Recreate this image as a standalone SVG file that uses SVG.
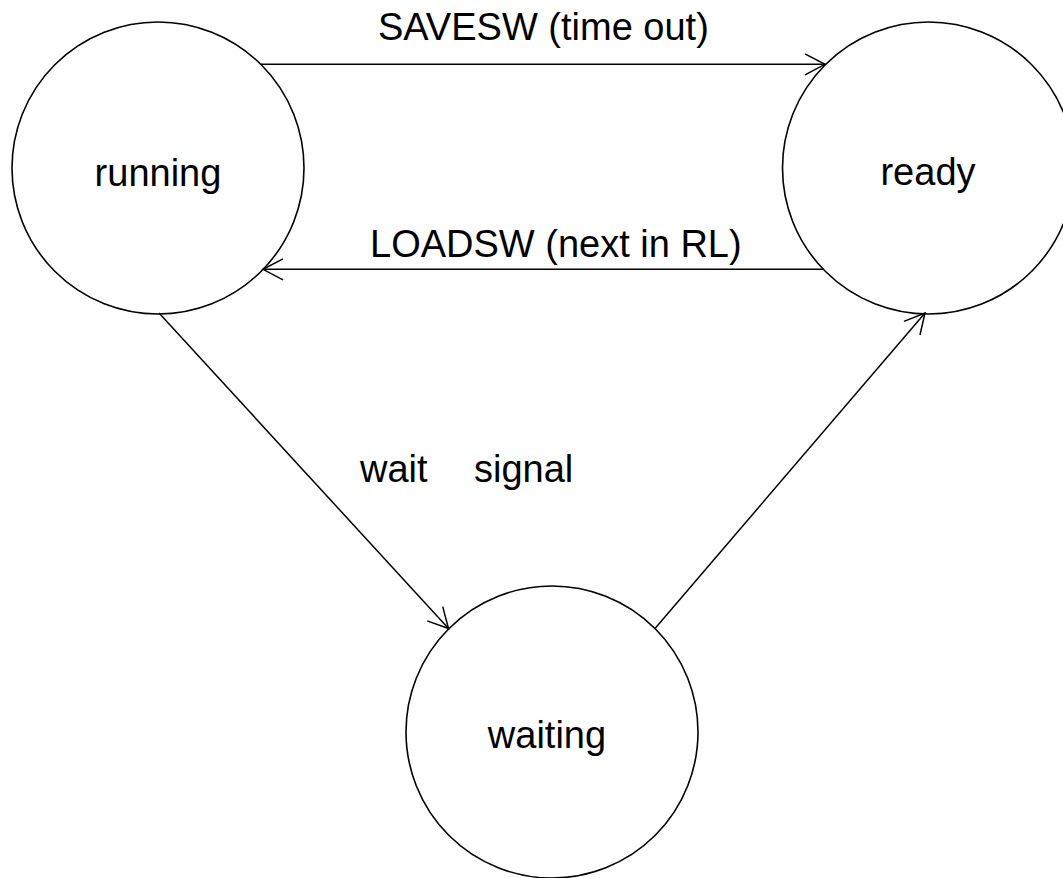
<svg xmlns="http://www.w3.org/2000/svg" width="1063" height="878" viewBox="0 0 1063 878">
  <style>
    .node { fill: #ffffff; stroke: #000000; stroke-width: 1.6; }
    .edge { fill: none; stroke: #000000; stroke-width: 1.5; }
    text { font-family: "Liberation Sans", Arial, sans-serif; font-size: 38px; fill: #000000; }
    .c { text-anchor: middle; }
  </style>
  <defs>
    <marker id="arrow" markerUnits="userSpaceOnUse" markerWidth="30" markerHeight="30" viewBox="-25 -15 30 30" refX="0" refY="0" orient="auto">
      <path d="M-20,-10.5 L0,0 L-20,10.5" fill="none" stroke="#000000" stroke-width="1.5"/>
    </marker>
  </defs>
  <rect width="1063" height="878" fill="#ffffff"/>
  <g id="node-running">
    <circle class="node" cx="158" cy="168" r="146"/>
    <text class="c" x="158" y="186">running</text>
  </g>
  <g id="node-ready">
    <circle class="node" cx="928.5" cy="168" r="146"/>
    <text class="c" x="928" y="185">ready</text>
  </g>
  <g id="node-waiting">
    <circle class="node" cx="552" cy="732" r="146"/>
    <text class="c" x="547" y="748">waiting</text>
  </g>
  <g id="connectors">
    <line class="edge" x1="261" y1="64.3" x2="825" y2="64.3" marker-end="url(#arrow)"/>
    <line class="edge" x1="823" y1="269.3" x2="263" y2="269.3" marker-end="url(#arrow)"/>
    <line class="edge" x1="159" y1="313" x2="448.5" y2="628.5" marker-end="url(#arrow)"/>
    <line class="edge" x1="655" y1="628.5" x2="925" y2="313" marker-end="url(#arrow)"/>
    <text x="378" y="40">SAVESW (time out)</text>
    <text x="370" y="257">LOADSW (next in RL)</text>
    <text x="360" y="482">wait</text>
    <text x="474" y="482">signal</text>
  </g>
</svg>
